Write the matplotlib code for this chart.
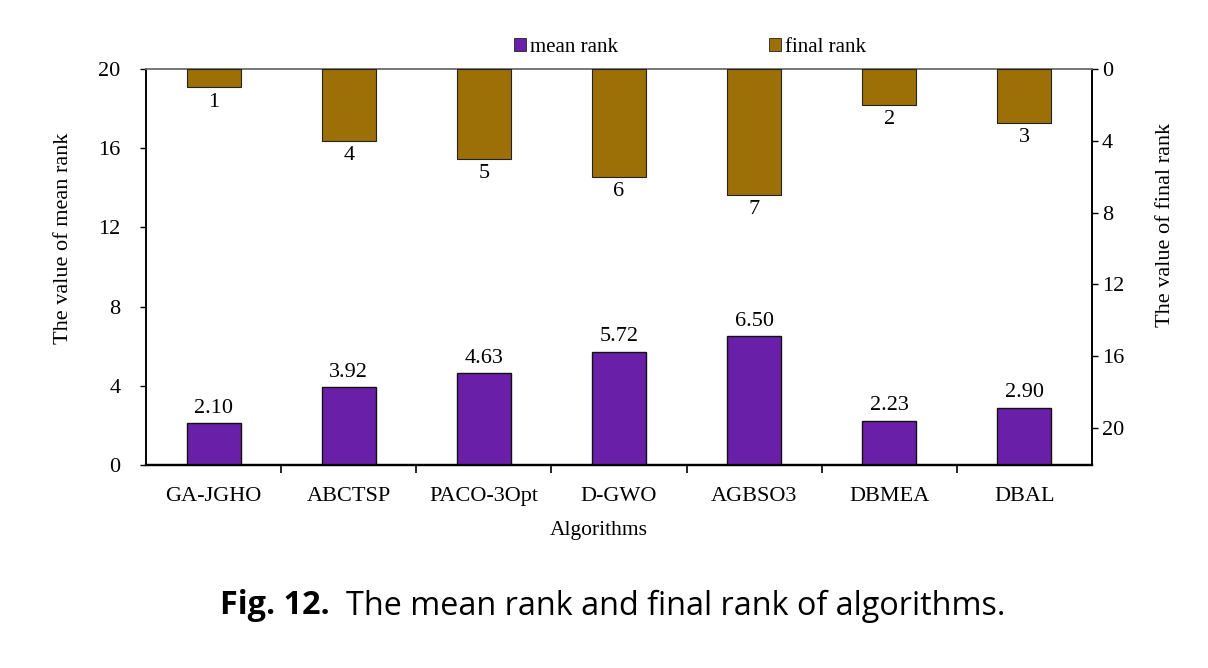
import matplotlib
matplotlib.use("Agg")
import matplotlib.pyplot as plt
from matplotlib.patches import Patch
import numpy as np

algorithms = ["GA-JGHO", "ABCTSP", "PACO-3Opt", "D-GWO", "AGBSO3", "DBMEA", "DBAL"]
mean_rank = [2.10, 3.92, 4.63, 5.72, 6.50, 2.23, 2.90]
final_rank = [1, 4, 5, 6, 7, 2, 3]
left_ticks = [0, 4, 8, 12, 16, 20]
right_ticks = [0, 4, 8, 12, 16, 20]

purple = "#6a1fa8"
gold = "#9c7006"
serif = ["Liberation Serif", "DejaVu Serif"]
plt.rcParams["font.family"] = serif

W, H = 1208, 668
fig = plt.figure(figsize=(W / 100, H / 100), dpi=100)
ax = fig.add_axes([146 / W, 1 - 465 / H, (1092 - 146) / W, (465 - 69) / H])
ax2 = ax.twinx()

x = np.arange(len(algorithms))
bw = 0.4
ax.bar(x, mean_rank, width=bw, color=purple, edgecolor="#111111", linewidth=1.0, zorder=3)
ax2.bar(x, final_rank, width=bw, color=gold, edgecolor="#222222", linewidth=0.8, zorder=3)

ax.set_xlim(-0.5, len(algorithms) - 0.5)
ax.set_ylim(0, 20)
ax2.set_ylim(22.06, 0)

ax.set_yticks(left_ticks)
ax2.set_yticks(right_ticks)
ax.set_xticks(x)
ax.set_xticklabels(algorithms, fontsize=16)
ax.tick_params(axis="x", length=0, pad=16)
ax.set_xticks(np.arange(0.5, len(algorithms) - 0.5, 1.0), minor=True)
ax.tick_params(axis="x", which="minor", length=6, width=1.2, direction="out")
ax.tick_params(axis="y", labelsize=16, length=4.5, width=1.0, direction="out", pad=14)
ax2.tick_params(axis="y", labelsize=16, length=4, width=1.0, direction="out", pad=3)

for a in (ax, ax2):
    a.spines["top"].set_color("#777777")
    a.spines["left"].set_linewidth(1.2)
    a.spines["right"].set_linewidth(1.2)
    a.spines["bottom"].set_linewidth(1.6)
    a.spines["top"].set_linewidth(1.2)

for xi, v in zip(x, mean_rank):
    ax.annotate(f"{v:.2f}", (xi, v), xytext=(0, 4), textcoords="offset points",
                ha="center", va="bottom", fontsize=16)
for xi, v in zip(x, final_rank):
    ax2.annotate(f"{v}", (xi, v), xytext=(0, -4), textcoords="offset points",
                 ha="center", va="top", fontsize=16)

fig.text(64 / W, 1 - 238 / H, "The value of mean rank", rotation=90, ha="center", va="center", fontsize=16)
fig.text(1165 / W, 1 - 225 / H, "The value of final rank", rotation=90, ha="center", va="center", fontsize=16)
fig.text(599 / W, 1 - 530 / H, "Algorithms", ha="center", va="center", fontsize=15.5)

handles = [Patch(facecolor=purple, edgecolor="#222222", linewidth=0.6),
           Patch(facecolor=gold, edgecolor="#222222", linewidth=0.6)]
fig.legend(handles, ["mean rank", "final rank"], loc="center", bbox_to_anchor=(690 / W, 1 - 47 / H),
           ncol=2, frameon=False, fontsize=15, handlelength=0.6, handleheight=0.6,
           handletextpad=0.2, columnspacing=7.2)

# caption
fig.canvas.draw()
r = fig.canvas.get_renderer()
cap_font = ["Open Sans", "DejaVu Sans"]
t1 = fig.text(220 / W, 1 - 606 / H, "Fig. 12.", fontsize=23.3, fontweight="bold",
              family=cap_font, ha="left", va="center")
bb = t1.get_window_extent(renderer=r)
t2 = fig.text((bb.x1 + 16) / W, 1 - 606 / H, "The mean rank and final rank of algorithms.",
              fontsize=23.3, family=cap_font, ha="left", va="center")

fig.savefig("out.png", dpi=100)
